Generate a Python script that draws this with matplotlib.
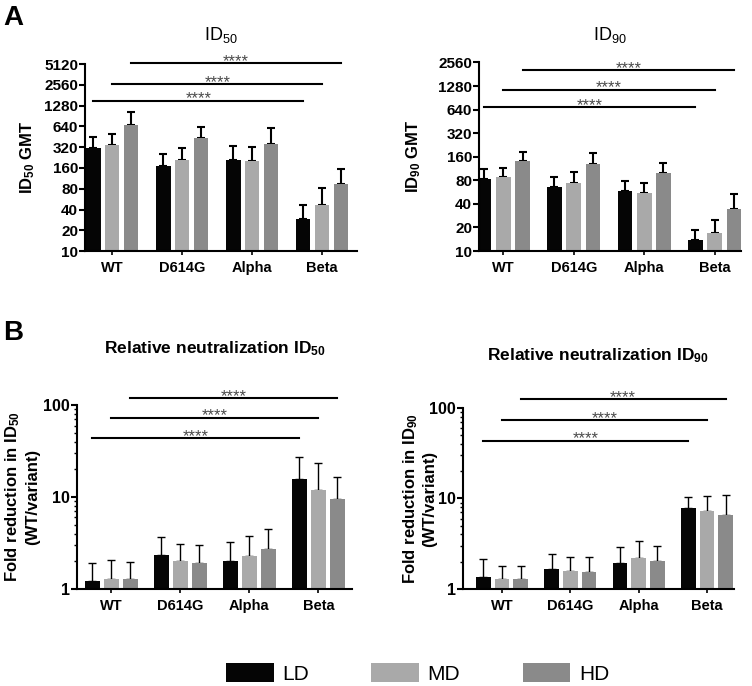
import numpy as np
import matplotlib
matplotlib.use('Agg')
import matplotlib.pyplot as plt
from matplotlib.patches import Patch
from matplotlib.ticker import FixedLocator, FixedFormatter, LogLocator, NullFormatter, NullLocator

plt.rcParams['font.family'] = ['Liberation Sans', 'DejaVu Sans']
plt.rcParams['mathtext.default'] = 'regular'

variants = ['WT', 'D614G', 'Alpha', 'Beta']
doses = ['LD', 'MD', 'HD']
colors = ['#050505', '#a9a9a9', '#8a8a8a']

# bar heights (rows LD, MD, HD) and top of the upper error whisker
id50_gmt = [[313, 173, 207, 28.8],
            [346, 212, 205, 46.5],
            [667, 437, 358, 95]]
id50_top = [[452, 259, 334, 47],
            [505, 313, 324, 83],
            [1018, 631, 617, 157]]

id90_gmt = [[82, 65, 58, 14],
            [87, 75, 55, 17.2],
            [143, 129, 98, 34]]
id90_top = [[110, 87, 78, 18.8],
            [115, 102, 75, 25.2],
            [185, 177, 135, 54]]

fold50 = [[1.23, 2.34, 2.03, 15.6],
          [1.27, 2.03, 2.30, 12.0],
          [1.27, 1.90, 2.70, 9.5]]
fold50_top = [[1.90, 3.70, 3.21, 27.4],
              [2.05, 3.08, 3.77, 23.6],
              [1.96, 2.98, 4.45, 16.4]]

fold90 = [[1.37, 1.68, 1.94, 7.76],
          [1.30, 1.57, 2.22, 7.31],
          [1.30, 1.53, 2.02, 6.50]]
fold90_top = [[2.12, 2.45, 2.90, 10.3],
              [1.81, 2.27, 3.41, 10.6],
              [1.78, 2.25, 2.95, 10.8]]

# height of the WT vs Beta significance bars (LD, MD, HD)
sig50 = [1505, 2630, 5230]
sig90 = [686, 1154, 2040]
sig_fold50 = [43.8, 72.8, 120]
sig_fold90 = [43.3, 73, 125]

gmt50_ticks = [10, 20, 40, 80, 160, 320, 640, 1280, 2560, 5120]
gmt90_ticks = [10, 20, 40, 80, 160, 320, 640, 1280, 2560]
fold_ticks = [1, 10, 100]


def draw(ax, vals, tops, sig, width, offset, lw, ytick_size):
    x = np.arange(len(variants))
    for i in range(3):
        xs = x + (i - 1) * offset
        v = np.array(vals[i])
        up = np.array(tops[i]) - v
        ax.bar(xs, v, width, color=colors[i], zorder=2)
        ax.errorbar(xs, v, yerr=[np.zeros_like(v), up], fmt='none', ecolor='black',
                    elinewidth=lw, capsize=3, capthick=lw, zorder=1)
        x0, x1 = x[0] + (i - 1) * offset, x[-1] + (i - 1) * offset
        ax.plot([x0, x1], [sig[i], sig[i]], color='black', lw=1.5, clip_on=False, zorder=3)
        ax.annotate('****', ((x0 + x1) / 2, sig[i]), xytext=(0, -2), textcoords='offset points',
                    ha='center', va='baseline', fontsize=12, color='#4a4a4a', annotation_clip=False)
    ax.set_yscale('log')
    ax.set_xticks(x)
    ax.set_xticklabels(variants, fontsize=10.5, fontweight='bold')
    for s in ['top', 'right']:
        ax.spines[s].set_visible(False)
    for s in ['left', 'bottom']:
        ax.spines[s].set_linewidth(1.5)
    ax.tick_params(axis='y', which='major', length=4, width=1.5, labelsize=ytick_size, pad=1)
    ax.tick_params(axis='x', which='major', length=3, width=1.2, pad=4)


fig = plt.figure(figsize=(7.52, 6.86), dpi=100)

# A left: ID50 GMT
ax1 = fig.add_axes([0.113, 0.634, 0.362, 0.2726])
draw(ax1, id50_gmt, id50_top, sig50, 0.205, 0.27, 1.5, 11)
ax1.set_ylim(10, 5120)
ax1.set_xlim(-0.39, 3.5)
ax1.yaxis.set_major_locator(FixedLocator(gmt50_ticks))
ax1.yaxis.set_major_formatter(FixedFormatter([str(t) for t in gmt50_ticks]))
ax1.yaxis.set_minor_locator(NullLocator())
for t in ax1.get_yticklabels():
    t.set_fontweight('bold')
ax1.set_ylabel('ID$_{50}$ GMT', fontsize=12, fontweight='bold')
ax1.yaxis.set_label_coords(-0.175, 0.5)
ax1.set_title('ID$_{50}$', fontsize=13, pad=17)

# A right: ID90 GMT
ax2 = fig.add_axes([0.637, 0.634, 0.348, 0.275])
draw(ax2, id90_gmt, id90_top, sig90, 0.208, 0.274, 1.5, 11)
ax2.set_ylim(10, 2560)
ax2.set_xlim(-0.344, 3.37)
ax2.yaxis.set_major_locator(FixedLocator(gmt90_ticks))
ax2.yaxis.set_major_formatter(FixedFormatter([str(t) for t in gmt90_ticks]))
ax2.yaxis.set_minor_locator(NullLocator())
for t in ax2.get_yticklabels():
    t.set_fontweight('bold')
ax2.set_ylabel('ID$_{90}$ GMT', fontsize=12, fontweight='bold')
ax2.yaxis.set_label_coords(-0.215, 0.5)
ax2.set_title('ID$_{90}$', fontsize=13, pad=16)

# B left: fold reduction ID50
ax3 = fig.add_axes([0.1024, 0.1414, 0.366, 0.268])
draw(ax3, fold50, fold50_top, sig_fold50, 0.22, 0.275, 1.0, 11.5)
ax3.set_ylim(1, 100)
ax3.set_xlim(-0.497, 3.49)
ax3.yaxis.set_major_locator(FixedLocator(fold_ticks))
ax3.yaxis.set_major_formatter(FixedFormatter([str(t) for t in fold_ticks]))
ax3.yaxis.set_minor_locator(LogLocator(base=10, subs=np.arange(2, 10)))
ax3.yaxis.set_minor_formatter(NullFormatter())
ax3.tick_params(axis='y', which='minor', length=2.5, width=1)
for t in ax3.get_yticklabels():
    t.set_fontweight('bold')
ax3.set_ylabel('Fold reduction in ID$_{50}$\n(WT/variant)', fontsize=12, fontweight='bold')
ax3.yaxis.set_label_coords(-0.135, 0.5)
ax3.set_title('Relative neutralization ID$_{50}$', fontsize=12.5, fontweight='bold', pad=37)

# B right: fold reduction ID90
ax4 = fig.add_axes([0.6157, 0.1414, 0.360, 0.264])
draw(ax4, fold90, fold90_top, sig_fold90, 0.214, 0.273, 1.0, 11.5)
ax4.set_ylim(1, 100)
ax4.set_xlim(-0.571, 3.39)
ax4.yaxis.set_major_locator(FixedLocator(fold_ticks))
ax4.yaxis.set_major_formatter(FixedFormatter([str(t) for t in fold_ticks]))
ax4.yaxis.set_minor_locator(LogLocator(base=10, subs=np.arange(2, 10)))
ax4.yaxis.set_minor_formatter(NullFormatter())
ax4.tick_params(axis='y', which='minor', length=2.5, width=1)
for t in ax4.get_yticklabels():
    t.set_fontweight('bold')
ax4.set_ylabel('Fold reduction in ID$_{90}$\n(WT/variant)', fontsize=12, fontweight='bold')
ax4.yaxis.set_label_coords(-0.096, 0.5)
ax4.set_title('Relative neutralization ID$_{90}$', fontsize=12.5, fontweight='bold', pad=34)

fig.text(0.004, 1 - 25 / 686, 'A', fontsize=20, fontweight='bold', va='baseline')
fig.text(0.004, 1 - 340 / 686, 'B', fontsize=20, fontweight='bold', va='baseline')

handles = [Patch(facecolor=c, edgecolor='none', label=d) for c, d in zip(colors, doses)]
fig.legend(handles=handles, loc='center', bbox_to_anchor=(0.555, 0.018), ncol=3, frameon=False,
           fontsize=15, handlelength=2.3, handleheight=1.0, handletextpad=0.4, columnspacing=3.0,
           borderpad=0, borderaxespad=0)

fig.savefig('out.png', dpi=100, facecolor='white')
